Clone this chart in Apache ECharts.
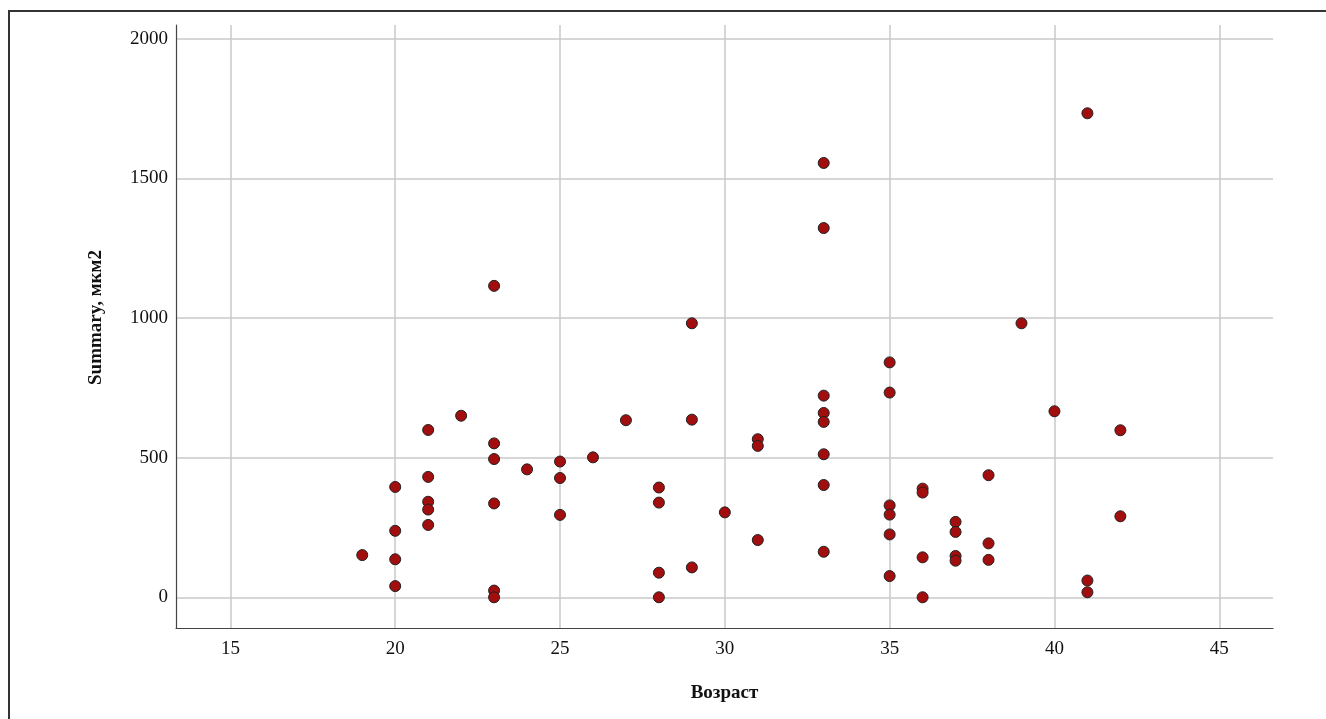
<!DOCTYPE html>
<html>
<head>
<meta charset="utf-8">
<script src="https://cdn.jsdelivr.net/npm/echarts@6/dist/echarts.min.js"></script>
<style>
html, body { margin: 0; padding: 0; background: #fff; }
#container { width: 1326px; height: 719px; }
</style>
</head>
<body>
<div id="container"></div>
<script>
// age (Возраст) of each measurement
var ages = [
	19,
	20, 20, 20, 20,
	21, 21, 21, 21, 21,
	22,
	23, 23, 23, 23, 23, 23,
	24,
	25, 25, 25,
	26, 27,
	28, 28, 28, 28,
	29, 29, 29,
	30,
	31, 31, 31,
	33, 33, 33, 33, 33, 33, 33, 33,
	35, 35, 35, 35, 35, 35,
	36, 36, 36, 36,
	37, 37, 37, 37,
	38, 38, 38,
	39, 40,
	41, 41, 41,
	42, 42
];
// Summary, мкм2
var summary = [
	151,
	395, 238, 136, 40,
	599, 431, 342, 314, 259,
	650,
	1115, 551, 495, 336, 24, 0,
	458,
	486, 427, 295,
	501, 634,
	393, 339, 88, 0,
	981, 636, 107,
	304,
	566, 542, 205,
	1555, 1322, 722, 660, 628, 512, 402, 163,
	841, 733, 329, 296, 225, 76,
	389, 375, 143, 0,
	270, 234, 148, 131,
	437, 193, 134,
	981, 666,
	1733, 60, 18,
	598, 290
];

var font = '"Liberation Serif", "DejaVu Serif", serif';

var points = [];
for (var i = 0; i < ages.length; ++i) {
	points.push([ages[i], summary[i]]);
}

var myChart = echarts.init(document.getElementById('container'));
var option = {
	animation: false,
	backgroundColor: '#fff',
	graphic: [
		{
			type: 'rect',
			shape: { x: 9, y: 11, width: 1400, height: 800 },
			style: { fill: 'none', stroke: '#333', lineWidth: 2 },
			silent: true
		}
	],
	grid: {
		left: 176,
		top: 25,
		right: 53,
		bottom: 91
	},
	xAxis: {
		type: 'value',
		min: 13.35,
		max: 46.63,
		splitNumber: 5,
		name: 'Возраст',
		nameLocation: 'middle',
		nameGap: 56,
		nameTextStyle: { fontFamily: font, fontWeight: 'bold', fontSize: 19, color: '#111' },
		axisLine: { show: true, onZero: false, lineStyle: { color: '#444', width: 1.2 } },
		axisTick: { show: false },
		axisLabel: {
			showMinLabel: false,
			showMaxLabel: false,
			margin: 12,
			fontFamily: font,
			fontSize: 19,
			color: '#111',
			formatter: function(v) { return String(v); }
		},
		splitLine: {
			show: true,
			showMinLine: false,
			showMaxLine: false,
			lineStyle: { color: '#c8c8c8', width: 1.5 }
		}
	},
	yAxis: {
		type: 'value',
		min: -110,
		max: 2049,
		splitNumber: 5,
		name: 'Summary, мкм2',
		nameLocation: 'middle',
		nameGap: 70,
		nameTextStyle: { fontFamily: font, fontWeight: 'bold', fontSize: 19, color: '#111', padding: [0, 0, 0, 18] },
		axisLine: { show: true, onZero: false, lineStyle: { color: '#444', width: 1.2 } },
		axisTick: { show: false },
		axisLabel: {
			showMinLabel: false,
			showMaxLabel: false,
			margin: 8,
			fontFamily: font,
			fontSize: 19,
			color: '#111',
			formatter: function(v) { return String(v); }
		},
		splitLine: {
			show: true,
			showMinLine: false,
			showMaxLine: false,
			lineStyle: { color: '#c8c8c8', width: 1.5 }
		}
	},
	series: [
		{
			name: 'Summary',
			type: 'scatter',
			symbol: 'circle',
			symbolSize: 11,
			itemStyle: {
				color: '#a20d0d',
				opacity: 1,
				borderColor: '#222',
				borderWidth: 1
			},
			data: points
		}
	]
};
myChart.setOption(option);
</script>
</body>
</html>
